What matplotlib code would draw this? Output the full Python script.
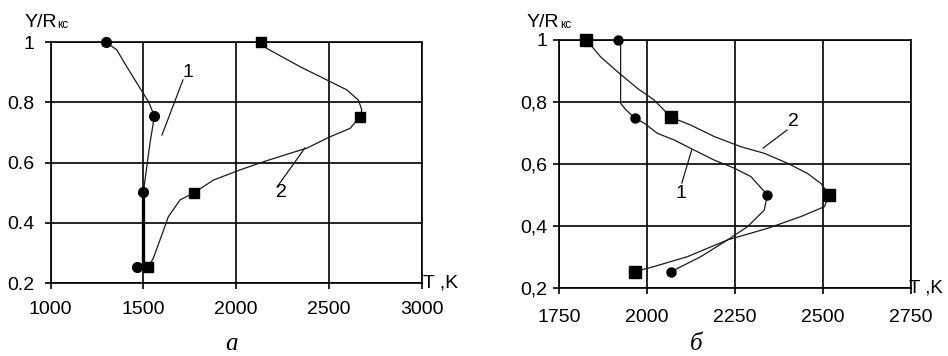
import matplotlib
matplotlib.use("Agg")
import matplotlib.pyplot as plt

# ---------------- data ----------------
# panel a
a_xticks = [1000, 1500, 2000, 2500, 3000]
a_yticks = [0.2, 0.4, 0.6, 0.8, 1.0]
a_yticklabels = ["0.2", "0.4", "0.6", "0.8", "1"]

a_m1_T = [1298, 1559, 1500, 1464]
a_m1_Y = [1.0, 0.755, 0.504, 0.254]
a_c1_T = [1298, 1356, 1410, 1482, 1527, 1559, 1535, 1500]
a_c1_Y = [1.0, 0.975, 0.919, 0.847, 0.803, 0.755, 0.664, 0.504]
a_c1_thick_T = [1496, 1496]
a_c1_thick_Y = [0.504, 0.265]
a_c1_tail_T = [1496, 1486, 1464]
a_c1_tail_Y = [0.265, 0.262, 0.254]

a_m2_T = [2134, 2668, 1773, 1527]
a_m2_Y = [1.0, 0.753, 0.5, 0.254]
a_c2_T = [2134, 2164, 2344, 2488, 2596, 2659, 2677, 2668, 2614, 2506, 2380,
          2290, 2147, 2021, 1877, 1773, 1697, 1634, 1589, 1553, 1527]
a_c2_Y = [1.0, 0.98, 0.919, 0.875, 0.842, 0.808, 0.775, 0.753, 0.714, 0.686,
          0.648, 0.631, 0.603, 0.576, 0.542, 0.5, 0.476, 0.42, 0.343, 0.282, 0.254]

a_lab1 = (1740, 0.9)
a_lead1_T = [1713, 1600]
a_lead1_Y = [0.875, 0.692]
a_lab2 = (2242, 0.50)
a_lead2_T = [2220, 2371]
a_lead2_Y = [0.519, 0.649]

# panel b
b_xticks = [1750, 2000, 2250, 2500, 2750]
b_yticks = [0.2, 0.4, 0.6, 0.8, 1.0]
b_yticklabels = ["0,2", "0,4", "0,6", "0,8", "1"]

b_m1_T = [1918, 1966, 2342, 2069]
b_m1_Y = [1.0, 0.748, 0.501, 0.254]
b_c1_T = [1918, 1925, 1925, 1940, 1966, 1992, 2030, 2077, 2124, 2191, 2248,
          2295, 2342, 2333, 2286, 2229, 2153, 2069]
b_c1_Y = [1.0, 1.0, 0.796, 0.775, 0.748, 0.732, 0.699, 0.678, 0.651, 0.613,
          0.587, 0.560, 0.501, 0.452, 0.399, 0.356, 0.302, 0.254]

b_m2_T = [1828, 2068, 2518, 1966]
b_m2_Y = [1.0, 0.751, 0.501, 0.254]
b_c2_T = [1828, 1868, 1916, 1973, 2020, 2068, 2124, 2191, 2267, 2333, 2399,
          2456, 2494, 2518, 2504, 2437, 2342, 2229, 2115, 2020, 1966]
b_c2_Y = [1.0, 0.946, 0.898, 0.844, 0.807, 0.751, 0.726, 0.689, 0.656, 0.635,
          0.603, 0.570, 0.538, 0.501, 0.463, 0.431, 0.393, 0.356, 0.302, 0.270, 0.254]

b_lab1 = (2097, 0.507)
b_lead1_T = [2099, 2127]
b_lead1_Y = [0.539, 0.646]
b_lab2 = (2415, 0.736)
b_lead2_T = [2330, 2398]
b_lead2_Y = [0.652, 0.710]

# ---------------- drawing ----------------
W, H = 948, 356
fig = plt.figure(figsize=(W / 100, H / 100), dpi=100)
fig.patch.set_facecolor("white")

FONT = "Liberation Sans"
TICK_FS = 14
LW_GRID = 1.2
LINE_C = "#1a1a1a"


def px(x, y):
    return x / W, 1 - y / H


def style_axes(ax, xticks, xlim, yticks, yticklabels, ypad):
    ax.set_xlim(*xlim)
    ax.set_ylim(0.2, 1.0)
    ax.set_xticks(xticks)
    ax.set_xticklabels([str(t) for t in xticks], fontsize=TICK_FS, family=FONT)
    ax.set_yticks(yticks)
    ax.set_yticklabels(yticklabels, fontsize=TICK_FS, family=FONT)
    ax.grid(True, color="black", linewidth=LW_GRID)
    ax.set_axisbelow(True)
    for s in ax.spines.values():
        s.set_linewidth(LW_GRID)
        s.set_color("black")
    ax.tick_params(axis="both", direction="out", length=4.5, width=LW_GRID, color="black")
    ax.tick_params(axis="x", pad=8.5)
    ax.tick_params(axis="y", pad=ypad)


# panel a
axa = fig.add_axes([50.7 / W, 1 - 283 / H, (421.7 - 50.7) / W, (283 - 42.3) / H])
style_axes(axa, a_xticks, (1000, 3000), a_yticks, a_yticklabels, 7)
axa.plot(a_c1_T, a_c1_Y, color=LINE_C, lw=0.9, clip_on=False)
axa.plot(a_c1_thick_T, a_c1_thick_Y, color="black", lw=2.4, clip_on=False)
axa.plot(a_c1_tail_T, a_c1_tail_Y, color=LINE_C, lw=0.9, clip_on=False)
axa.plot(a_c2_T, a_c2_Y, color=LINE_C, lw=0.9, clip_on=False)
axa.plot(a_m1_T, a_m1_Y, linestyle="none", marker="o", ms=7, color="black", clip_on=False, zorder=5)
axa.plot(a_m2_T, a_m2_Y, linestyle="none", marker="s", ms=7.5, color="black", clip_on=False, zorder=5)
axa.plot(a_lead1_T, a_lead1_Y, color=LINE_C, lw=0.9)
axa.plot(a_lead2_T, a_lead2_Y, color=LINE_C, lw=0.9)
axa.text(*a_lab1, "1", fontsize=TICK_FS, family=FONT, ha="center", va="center")
axa.text(*a_lab2, "2", fontsize=TICK_FS, family=FONT, ha="center", va="center")
axa.text(1.003, 0.0, "T ,K", transform=axa.transAxes, fontsize=TICK_FS, family=FONT,
         ha="left", va="center")

# panel b
axb = fig.add_axes([559 / W, 1 - 288.3 / H, (911 - 559) / W, (288.3 - 40) / H])
style_axes(axb, b_xticks, (1750, 2750), b_yticks, b_yticklabels, 4)
axb.tick_params(axis="x", pad=10.5)
axb.plot(b_c1_T, b_c1_Y, color=LINE_C, lw=0.9, clip_on=False)
axb.plot(b_c2_T, b_c2_Y, color=LINE_C, lw=0.9, clip_on=False)
axb.plot(b_m1_T, b_m1_Y, linestyle="none", marker="o", ms=6.5, color="black", clip_on=False, zorder=5)
axb.plot(b_m2_T, b_m2_Y, linestyle="none", marker="s", ms=8, color="black", clip_on=False, zorder=5)
axb.plot(b_lead1_T, b_lead1_Y, color=LINE_C, lw=0.9)
axb.plot(b_lead2_T, b_lead2_Y, color=LINE_C, lw=0.9)
axb.text(*b_lab1, "1", fontsize=TICK_FS, family=FONT, ha="center", va="center")
axb.text(*b_lab2, "2", fontsize=TICK_FS, family=FONT, ha="center", va="center")
axb.text(0.995, 0.0, "T ,K", transform=axb.transAxes, fontsize=13.5, family=FONT,
         ha="left", va="center")

# axis titles Y/R_кс
fig.text(*px(25, 27), "Y/R", fontsize=TICK_FS, family=FONT, ha="left", va="baseline")
fig.text(*px(57, 28), "кс", fontsize=8.5, family=FONT, ha="left", va="baseline")
fig.text(*px(527, 27), "Y/R", fontsize=TICK_FS, family=FONT, ha="left", va="baseline")
fig.text(*px(560, 28), "кс", fontsize=8.5, family=FONT, ha="left", va="baseline")

# captions
fig.text(*px(232, 350), "a", fontsize=18, family="Liberation Serif", style="italic",
         ha="center", va="baseline")
fig.text(*px(696, 350), "б", fontsize=18, family="Liberation Serif", style="italic",
         ha="center", va="baseline")

fig.savefig("out.png", dpi=100, facecolor="white")
